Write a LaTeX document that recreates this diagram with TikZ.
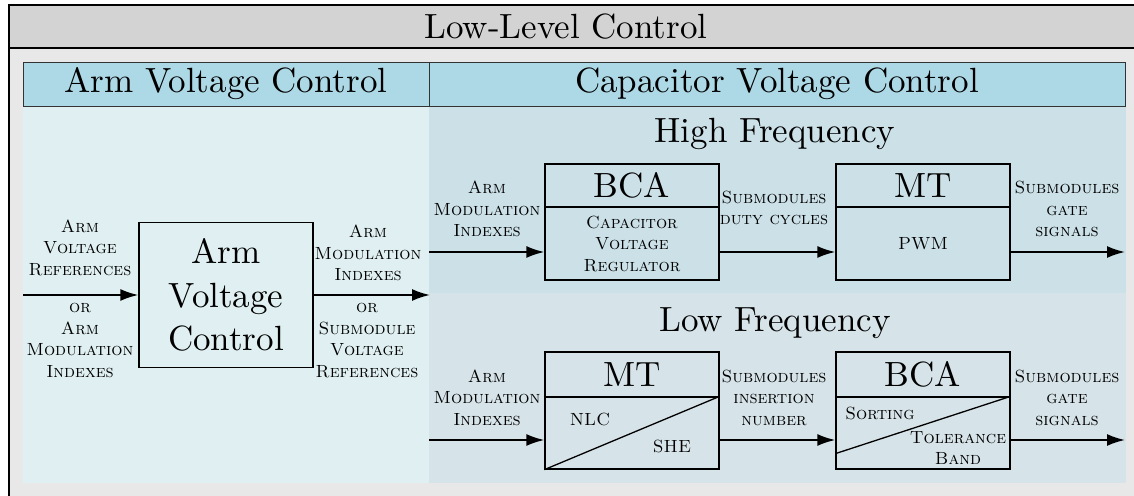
\documentclass[tikz,border=0pt]{standalone}
\usepackage{fontspec}
\setmainfont{lmroman10-regular}[Extension=.otf,SmallCapsFont=lmromancaps10-regular]
\usetikzlibrary{arrows.meta}

\definecolor{titlegray}{RGB}{211,211,211}
\definecolor{framegray}{RGB}{232,232,232}
\definecolor{headblue}{RGB}{173,216,230}
\definecolor{armfill}{RGB}{224,240,242}
\definecolor{hffill}{RGB}{203,224,231}
\definecolor{lffill}{RGB}{214,227,232}

\newcommand{\bigtxt}{\fontsize{35}{43.5}\selectfont}
\newcommand{\sctxt}{\fontsize{17.6}{21.5}\selectfont\scshape}

\begin{document}
\begin{tikzpicture}[x=10pt,y=10pt,
  blk/.style={draw,line width=1.3pt,minimum width=174pt,inner sep=0pt},
  lbl/.style={align=center,font=\sctxt,inner sep=0pt},
  big/.style={align=center,font=\bigtxt,inner sep=0pt},
  head/.style={draw=black!80,line width=0.8pt,fill=headblue,font=\bigtxt,minimum height=44pt,inner sep=0pt},
  arr/.style={line width=1.9pt,-{Latex[length=18pt,width=12pt]}}]
\useasboundingbox (0,0) rectangle (113.4,49.5);

% frame and panels
\draw[line width=1.6pt,fill=framegray] (0.9,-2) rectangle (116,49.0);
\draw[line width=1.6pt,fill=titlegray] (0.9,44.7) rectangle (116,49.0);
\node[big] (title) at (56.6,46.85) {Low-Level Control};
\fill[armfill] (2.3,1.2) rectangle (42.9,38.9);
\fill[hffill] (42.9,20.2) rectangle (112.6,38.9);
\fill[lffill] (42.9,1.2) rectangle (112.6,20.2);
\node[head,minimum width=406pt] (hdarm) at (22.6,41.1) {Arm Voltage Control};
\node[head,minimum width=696pt] (hdcap) at (77.7,41.1) {Capacitor Voltage Control};

% arm voltage control
\node[blk,minimum height=145pt,big] (armbox) at (22.6,20.0) {Arm\\Voltage\\Control};
\coordinate (armin) at (2.3,20.0);
\coordinate (armout) at (43.0,20.0);
\draw[arr] (armin) -- (armbox);
\draw[arr] (armbox) -- (armout);
\node[lbl] (armref) at (8.0,24.75) {Arm\\Voltage\\References};
\node[lbl] (armalt) at (8.0,15.47) {or\\Arm\\Modulation\\Indexes};
\node[lbl] (modidx) at (36.8,24.2) {Arm\\Modulation\\Indexes};
\node[lbl] (smref) at (36.7,15.47) {or\\Submodule\\Voltage\\References};

% high frequency
\node[big,anchor=base] (hftitle) at (77.5,35.2) {High Frequency};
\node[blk,minimum height=43pt,big] (bcahft) at (63.2,30.95) {BCA};
\node[blk,minimum height=73pt,lbl] (bcahf) at (63.2,25.15) {Capacitor\\Voltage\\Regulator};
\node[blk,minimum height=43pt,big] (mthft) at (92.3,30.95) {MT};
\node[blk,minimum height=73pt,lbl] (mthf) at (92.3,25.15) {PWM};
\coordinate (hfin) at (42.9,24.3);
\coordinate (hfout) at (112.5,24.3);
\draw[arr] (hfin) -- (hfin -| bcahf.west);
\draw[arr] (bcahf.east |- hfin) -- (hfin -| mthf.west);
\draw[arr] (mthf.east |- hfin) -- (hfout);
\node[lbl] (hfidx) at (48.7,28.6) {Arm\\Modulation\\Indexes};
\node[lbl] (hfduty) at (77.4,28.7) {Submodules\\duty cycles};
\node[lbl] (hfgate) at (106.7,28.6) {Submodules\\gate\\signals};

% low frequency
\node[big,anchor=base] (lftitle) at (77.5,16.3) {Low Frequency};
\node[blk,minimum height=45pt,big] (mtlft) at (63.2,12.05) {MT};
\node[blk,minimum height=72pt] (mtlf) at (63.2,6.2) {};
\draw[line width=1.3pt] (mtlf.south west) -- (mtlf.north east);
\node[lbl,anchor=base] (nlc) at (59.0,7.0) {NLC};
\node[lbl,anchor=base] (she) at (67.2,4.3) {SHE};
\node[blk,minimum height=45pt,big] (bcalft) at (92.3,12.05) {BCA};
\node[blk,minimum height=72pt] (bcalf) at (92.3,6.2) {};
\draw[line width=1.3pt] ([yshift=16pt]bcalf.south west) -- (bcalf.north east);
\node[lbl,anchor=base] (sort) at (88.0,7.5) {Sorting};
\node[lbl] (tolband) at (95.8,4.7) {Tolerance\\Band};
\coordinate (lfin) at (42.9,5.5);
\coordinate (lfout) at (112.5,5.5);
\draw[arr] (lfin) -- (lfin -| mtlf.west);
\draw[arr] (mtlf.east |- lfin) -- (lfin -| bcalf.west);
\draw[arr] (bcalf.east |- lfin) -- (lfout);
\node[lbl] (lfidx) at (48.7,9.75) {Arm\\Modulation\\Indexes};
\node[lbl] (lfins) at (77.4,9.75) {Submodules\\insertion\\number};
\node[lbl] (lfgate) at (106.7,9.75) {Submodules\\gate\\signals};
\end{tikzpicture}
\end{document}
